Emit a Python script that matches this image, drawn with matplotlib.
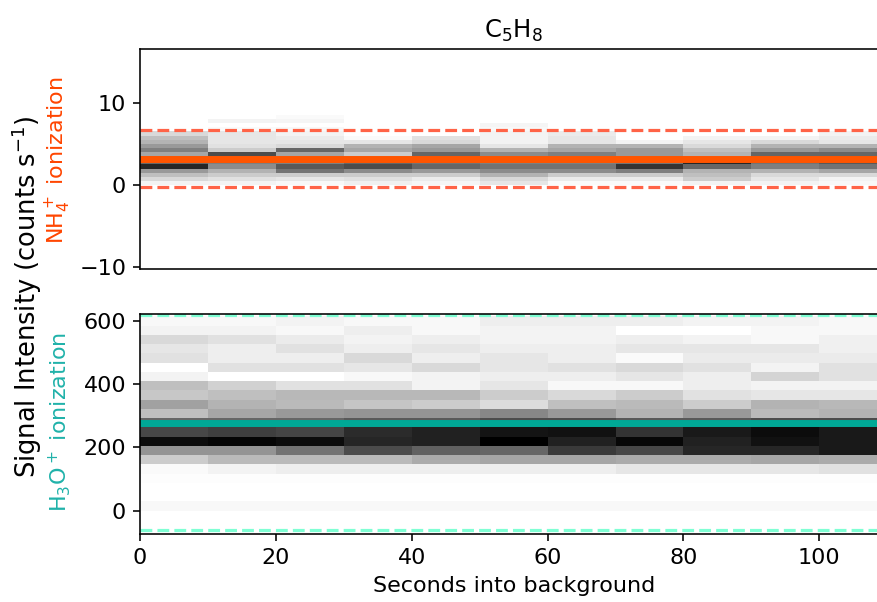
import matplotlib
matplotlib.use("Agg")
import matplotlib.pyplot as plt
import numpy as np

# time bins (seconds into background)
time_edges = [0, 10, 20, 30, 40, 50, 60, 70, 80, 90, 100, 110]

# NH4+ ionization: signal bins and relative density per time bin (columns)
nh4_edges = [0.0, 0.5, 1.0, 1.5, 2.0, 2.5, 3.0, 3.5, 4.0, 4.5, 5.0,
             5.5, 6.0, 6.5, 7.0, 7.5, 8.0, 8.5]
nh4_density = [
    [0.05, 0.15, 0.25, 0.4, 0.85, 0.6, 0.5, 0.35, 0.5, 0.4, 0.3, 0.25, 0.15, 0, 0, 0, 0],
    [0.05, 0.12, 0.2, 0.3, 0.45, 0.5, 0.55, 0.7, 0.2, 0.12, 0.1, 0.1, 0.1, 0.02, 0, 0.05, 0],
    [0.03, 0.1, 0.2, 0.55, 0.65, 0.5, 0.4, 0.35, 0.6, 0.15, 0.1, 0.08, 0.05, 0.03, 0, 0.04, 0.02],
    [0.06, 0.12, 0.2, 0.45, 0.7, 0.6, 0.3, 0.2, 0.35, 0.3, 0.1, 0.02, 0, 0, 0, 0, 0],
    [0.04, 0.08, 0.2, 0.4, 0.6, 0.55, 0.55, 0.6, 0.4, 0.35, 0.15, 0.12, 0, 0, 0, 0, 0],
    [0.1, 0.15, 0.3, 0.45, 0.55, 0.5, 0.45, 0.45, 0.3, 0.1, 0.05, 0.05, 0.05, 0.03, 0.04, 0, 0],
    [0.02, 0.08, 0.2, 0.45, 0.55, 0.5, 0.5, 0.5, 0.35, 0.3, 0.1, 0.1, 0.08, 0, 0, 0, 0],
    [0.02, 0.08, 0.2, 0.5, 0.8, 0.55, 0.45, 0.4, 0.4, 0.3, 0.05, 0, 0, 0, 0, 0, 0],
    [0.05, 0.2, 0.25, 0.3, 0.6, 0.85, 0.4, 0.3, 0.25, 0.15, 0.1, 0.05, 0, 0, 0, 0, 0],
    [0.05, 0.1, 0.15, 0.3, 0.5, 0.55, 0.6, 0.6, 0.4, 0.3, 0.15, 0.05, 0, 0, 0, 0, 0],
    [0.03, 0.05, 0.15, 0.35, 0.55, 0.65, 0.6, 0.6, 0.45, 0.3, 0.1, 0.08, 0.05, 0, 0, 0, 0],
]
nh4_mean = 3.1
nh4_upper = 6.64
nh4_lower = -0.28

# H3O+ ionization
h3o_edges = [0.0, 29.2, 58.4, 87.6, 116.8, 146.0, 175.2, 204.4, 233.6, 262.8, 292.0,
             321.2, 350.4, 379.6, 408.8, 438.0, 467.2, 496.4, 525.6, 554.8, 584.0, 613.2]
h3o_density = [
    [0.03, 0, 0, 0.01, 0.02, 0.2, 0.42, 0.95, 0.72, 0.6, 0.25, 0.37, 0.22, 0.25, 0.05, 0.0, 0.12, 0.1, 0.15, 0.05, 0.03],
    [0.03, 0, 0, 0.01, 0.05, 0.27, 0.42, 0.98, 0.75, 0.6, 0.35, 0.3, 0.25, 0.18, 0.0, 0.12, 0.07, 0.07, 0.12, 0.05, 0.03],
    [0.03, 0, 0, 0.01, 0.07, 0.27, 0.55, 0.95, 0.73, 0.6, 0.4, 0.27, 0.28, 0.12, 0.0, 0.12, 0.07, 0.12, 0.08, 0.03, 0.05],
    [0.03, 0, 0, 0.01, 0.07, 0.27, 0.7, 0.85, 0.83, 0.65, 0.42, 0.23, 0.28, 0.12, 0.03, 0.1, 0.15, 0.07, 0.05, 0.07, 0.03],
    [0.03, 0, 0, 0.01, 0.07, 0.33, 0.62, 0.87, 0.87, 0.65, 0.42, 0.2, 0.28, 0.05, 0.05, 0.15, 0.07, 0.1, 0.07, 0.03, 0.03],
    [0.03, 0, 0, 0.01, 0.07, 0.35, 0.6, 1.0, 0.92, 0.7, 0.47, 0.14, 0.2, 0.1, 0.07, 0.1, 0.1, 0.07, 0.05, 0.05, 0.07],
    [0.03, 0, 0, 0.01, 0.07, 0.35, 0.77, 0.87, 0.93, 0.7, 0.4, 0.25, 0.15, 0.03, 0.07, 0.12, 0.07, 0.07, 0.05, 0.05, 0.07],
    [0.03, 0, 0, 0.01, 0.1, 0.33, 0.72, 0.97, 0.8, 0.65, 0.3, 0.27, 0.2, 0.03, 0.1, 0.15, 0.02, 0.1, 0.07, 0.0, 0.07],
    [0.03, 0, 0, 0.01, 0.1, 0.33, 0.85, 0.87, 0.9, 0.65, 0.4, 0.2, 0.12, 0.07, 0.07, 0.12, 0.08, 0.1, 0.05, 0.0, 0.05],
    [0.03, 0, 0, 0.01, 0.1, 0.35, 0.85, 0.93, 0.95, 0.7, 0.27, 0.3, 0.1, 0.05, 0.17, 0.05, 0.08, 0.1, 0.03, 0.03, 0.05],
    [0.03, 0, 0, 0.01, 0.12, 0.33, 0.9, 0.9, 0.9, 0.7, 0.3, 0.28, 0.1, 0.05, 0.12, 0.12, 0.08, 0.06, 0.06, 0.03, 0.03],
]
h3o_mean = 276
h3o_upper = 617
h3o_lower = -61

nh4_color = "#ff5500"
nh4_dash = "#ff6347"
h3o_color = "#00a896"
h3o_dash = "#7fffd4"

plt.rcParams["font.size"] = 16
plt.rcParams["axes.linewidth"] = 1.15
plt.rcParams["xtick.major.width"] = 1.15
plt.rcParams["ytick.major.width"] = 1.15
plt.rcParams["xtick.major.size"] = 5
plt.rcParams["ytick.major.size"] = 5
plt.rcParams["xtick.major.pad"] = 5
plt.rcParams["ytick.major.pad"] = 5

fig = plt.figure(figsize=(8.78, 6.02), dpi=100)
ax1 = fig.add_axes([0.1595, 0.553, 0.851, 0.3656])
ax2 = fig.add_axes([0.1595, 0.1125, 0.851, 0.366])

# top panel
ax1.pcolormesh(time_edges, nh4_edges, np.array(nh4_density).T, cmap="binary", vmin=0, vmax=1)
ax1.axhline(nh4_mean, color=nh4_color, lw=5)
ax1.axhline(nh4_upper, color=nh4_dash, lw=2.3, ls="--")
ax1.axhline(nh4_lower, color=nh4_dash, lw=2.3, ls="--")
ax1.set_xlim(0, 110)
ax1.set_ylim(-10.2, 16.5)
ax1.set_yticks([-10, 0, 10])
ax1.tick_params(axis="x", bottom=False, labelbottom=False)
ax1.spines["right"].set_visible(False)
ax1.set_title("C$_5$H$_8$", fontsize=17.5, pad=8)

# bottom panel
ax2.pcolormesh(time_edges, h3o_edges, np.array(h3o_density).T, cmap="binary", vmin=0, vmax=1)
ax2.axhline(h3o_mean, color=h3o_color, lw=5)
ax2.axhline(h3o_upper, color=h3o_dash, lw=2.3, ls="--")
ax2.axhline(h3o_lower, color=h3o_dash, lw=2.3, ls="--")
ax2.set_xlim(0, 110)
ax2.set_ylim(-74.6, 621)
ax2.set_yticks([0, 200, 400, 600])
ax2.spines["right"].set_visible(False)
ax2.set_xlabel("Seconds into background", labelpad=6)

fig.text(0.031, 0.508, "Signal Intensity (counts s$^{-1}$)", rotation=90,
         ha="center", va="center", fontsize=18.5)
fig.text(0.066, 0.734, "NH$_4^+$ ionization", rotation=90, ha="center", va="center",
         color="#ff4500", fontsize=16)
fig.text(0.068, 0.299, "H$_3$O$^+$ ionization", rotation=90, ha="center", va="center",
         color="#20b2aa", fontsize=16)

fig.savefig("out.png", dpi=100)
